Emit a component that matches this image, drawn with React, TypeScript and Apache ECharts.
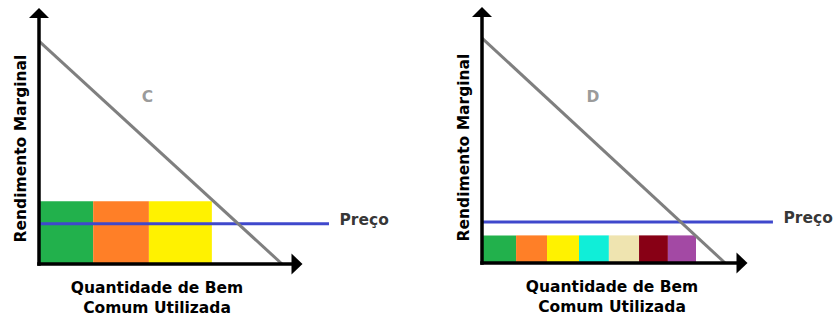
import React, { useEffect, useRef } from "react";
import * as echarts from "echarts";

// ---- Data ----
const panelLabels = ["C", "D"];
const yAxisTitle = "Rendimento Marginal";
const xAxisTitle = "Quantidade de Bem\nComum Utilizada";
const priceText = "Preço";

// Panel C: bar segment edges along x, common height
const barEdgesC = [0, 21, 42.6, 67];
const barHeightC = 25;
const barColorsC = ["#22B14C", "#FF7F27", "#FFF200"];
// Panel D
const barEdgesD = [0, 13.1, 25, 37.3, 48.8, 60.4, 71.5, 82.3];
const barHeightD = 11;
const barColorsD = ["#22B14C", "#FF7F27", "#FFF200", "#10EED8", "#EFE4B0", "#880015", "#A349A4"];

// Marginal return lines
const demandC = [[0, 88.8], [94.2, 0]];
const demandD = [[0, 89.6], [93.5, 0]];
// Price lines
const priceC = [[0, 16], [112.4, 16]];
const priceD = [[0, 16.3], [111.9, 16.3]];
// Panel letter positions
const letterPosC = [42, 66.5];
const letterPosD = [42.7, 66];

const FONT = "DejaVu Sans";
const FS = 15.5;

function buildBars(edges: number[], h: number) {
  const out: number[][] = [];
  for (let i = 0; i < edges.length - 1; i++) out.push([edges[i], edges[i + 1], h]);
  return out;
}

export default function App() {
  const ref = useRef<HTMLDivElement>(null);
  useEffect(() => {
    if (!ref.current) return;
    const chart = echarts.init(ref.current, null, { renderer: "svg" });

    const grids = [
      { left: 39, top: 13, width: 258, height: 251, containLabel: false, outerBoundsMode: "none" },
      { left: 482, top: 12, width: 260, height: 251, containLabel: false, outerBoundsMode: "none" },
    ];
    const xPad = [[0, 22, 0, 0], [0, 0, 0, 0]];
    const axisLine = (size: number[]) => ({
      show: true,
      onZero: false,
      symbol: ["none", "triangle"],
      symbolSize: size,
      lineStyle: { color: "#000", width: 3.5, cap: "square" },
    });
    const xAxes = [0, 1].map((i) => ({
      gridIndex: i,
      type: "value",
      min: 0,
      max: 100,
      z: 10,
      axisLine: axisLine([21, 11]),
      axisTick: { show: false },
      axisLabel: { show: false },
      splitLine: { show: false },
      name: xAxisTitle,
      nameLocation: "middle",
      nameGap: 14,
      nameTextStyle: {
        fontFamily: FONT,
        fontWeight: "bold",
        fontSize: FS,
        lineHeight: 20,
        color: "#000",
        padding: xPad[i],
      },
    }));
    const yAxes = [0, 1].map((i) => ({
      gridIndex: i,
      type: "value",
      min: 0,
      max: 100,
      z: 10,
      axisLine: axisLine([20, 10]),
      axisTick: { show: false },
      axisLabel: { show: false },
      splitLine: { show: false },
      name: yAxisTitle,
      nameLocation: "middle",
      nameGap: 10,
      nameTextStyle: {
        fontFamily: FONT,
        fontWeight: "bold",
        fontSize: FS,
        color: "#000",
        padding: [0, 20, 0, 0],
      },
    }));

    const panels = [
      { edges: barEdgesC, h: barHeightC, colors: barColorsC, demand: demandC, price: priceC, letter: letterPosC },
      { edges: barEdgesD, h: barHeightD, colors: barColorsD, demand: demandD, price: priceD, letter: letterPosD },
    ];

    const series: any[] = [];
    panels.forEach((p, i) => {
      series.push({
        type: "custom",
        xAxisIndex: i,
        yAxisIndex: i,
        data: buildBars(p.edges, p.h),
        encode: { x: [0, 1], y: 2 },
        renderItem: (params: any, api: any) => {
          const a = api.coord([api.value(0), api.value(2)]);
          const b = api.coord([api.value(1), 0]);
          return {
            type: "rect",
            shape: { x: a[0], y: a[1], width: b[0] - a[0], height: b[1] - a[1] },
            style: { fill: p.colors[params.dataIndex] },
          };
        },
      });
      series.push({
        type: "line",
        xAxisIndex: i,
        yAxisIndex: i,
        data: p.demand,
        symbol: "none",
        lineStyle: { color: "#7F7F7F", width: 3 },
        clip: false,
      });
      // price line drawn through a custom series so it can run past the axis end
      series.push({
        type: "custom",
        xAxisIndex: i,
        yAxisIndex: i,
        clip: false,
        data: [[p.price[0][0], p.price[1][0], p.price[0][1]]],
        encode: { x: [0, 1], y: 2 },
        renderItem: (params: any, api: any) => {
          const a = api.coord([api.value(0), api.value(2)]);
          const b = api.coord([api.value(1), api.value(2)]);
          return {
            type: "line",
            shape: { x1: a[0], y1: a[1], x2: b[0], y2: b[1] },
            style: { stroke: "#3F48CC", lineWidth: 3 },
          };
        },
      });
      series.push({
        type: "scatter",
        xAxisIndex: i,
        yAxisIndex: i,
        clip: false,
        symbolSize: 1,
        itemStyle: { color: "rgba(0,0,0,0)" },
        data: [
          {
            value: p.price[p.price.length - 1],
            label: {
              show: true,
              formatter: priceText,
              position: "right",
              distance: 10,
              offset: [0, -4],
              fontFamily: FONT,
              fontWeight: "bold",
              fontSize: FS,
              color: "#000",
            },
          },
          {
            value: p.letter,
            label: {
              show: true,
              formatter: panelLabels[i],
              position: "inside",
              fontFamily: FONT,
              fontWeight: "bold",
              fontSize: FS,
              color: "#808080",
            },
          },
        ],
      });
    });

    chart.setOption({
      animation: false,
      backgroundColor: "#fff",
      grid: grids,
      xAxis: xAxes,
      yAxis: yAxes,
      series,
    } as any);
    return () => chart.dispose();
  }, []);
  return (
    <div
      ref={ref}
      style={{ position: "fixed", left: 0, top: 0, width: 833, height: 320, background: "#fff" }}
    />
  );
}
